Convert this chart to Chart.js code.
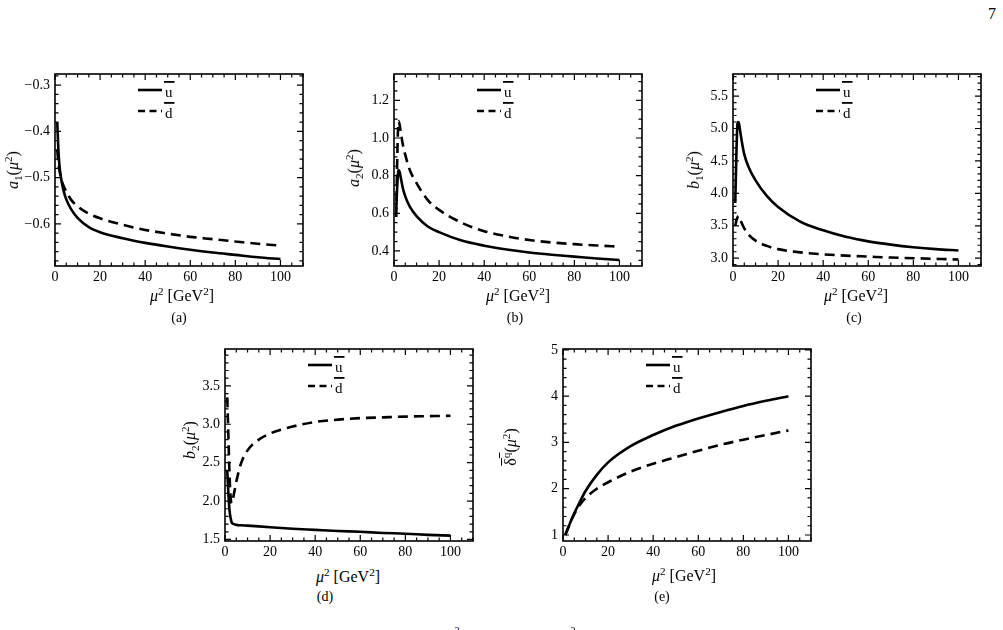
<!DOCTYPE html>
<html>
<head>
<meta charset="utf-8">
<script src="https://cdn.jsdelivr.net/npm/chart.js@4.4.0/dist/chart.umd.min.js"></script>
<style>
  body { margin: 0; background: #fff; width: 1003px; height: 630px; overflow: hidden; position: relative; font-family: "Liberation Serif", serif; color: #000; }
  canvas { position: absolute; }
  .lbl { position: absolute; white-space: nowrap; transform: translate(-50%, -50%); font-size: 16px; line-height: 1; }
  .rot { transform: translate(-50%, -50%) rotate(-90deg); }
  .sm { font-size: 14px; }
  sup, sub { font-size: 70%; line-height: 0; }
  .ov { text-decoration: overline; }
</style>
</head>
<body>
<div class="lbl" style="left:992px;top:14px">7</div>

<canvas id="chartA"></canvas>
<canvas id="chartB"></canvas>
<canvas id="chartC"></canvas>
<canvas id="chartD"></canvas>
<canvas id="chartE"></canvas>

<!-- axis titles -->
<div class="lbl rot" style="left:13px;top:170px"><i>a</i><sub>1</sub>(<i>μ</i><sup>2</sup>)</div>
<div class="lbl rot" style="left:354px;top:168px"><i>a</i><sub>2</sub>(<i>μ</i><sup>2</sup>)</div>
<div class="lbl rot" style="left:694px;top:170px"><i>b</i><sub>1</sub>(<i>μ</i><sup>2</sup>)</div>
<div class="lbl rot" style="left:190px;top:440px"><i>b</i><sub>2</sub>(<i>μ</i><sup>2</sup>)</div>
<div class="lbl rot" style="left:511px;top:447px"><span class="ov">δ</span><sup class="ov">q</sup>(<i>μ</i><sup>2</sup>)</div>

<div class="lbl" style="left:182px;top:296px"><i>μ</i><sup>2</sup> [GeV<sup>2</sup>]</div>
<div class="lbl" style="left:518px;top:296px"><i>μ</i><sup>2</sup> [GeV<sup>2</sup>]</div>
<div class="lbl" style="left:856px;top:296px"><i>μ</i><sup>2</sup> [GeV<sup>2</sup>]</div>
<div class="lbl" style="left:348px;top:577px"><i>μ</i><sup>2</sup> [GeV<sup>2</sup>]</div>
<div class="lbl" style="left:684px;top:576px"><i>μ</i><sup>2</sup> [GeV<sup>2</sup>]</div>

<div class="lbl sm" style="left:179px;top:318px">(a)</div>
<div class="lbl sm" style="left:515px;top:318px">(b)</div>
<div class="lbl sm" style="left:854px;top:318px">(c)</div>
<div class="lbl sm" style="left:325px;top:597px">(d)</div>
<div class="lbl sm" style="left:662px;top:597px">(e)</div>

<!-- caption line cut off by the page edge -->
<div class="lbl" style="left:457px;top:631px;font-size:10px">2</div>
<div class="lbl" style="left:573px;top:631px;font-size:10px">2</div>

<script>
// mu^2 grid (GeV^2)
const muSq = [1, 1.5, 2, 2.5, 3, 4, 5, 7, 10, 15, 20, 30, 40, 50, 60, 70, 80, 90, 100];

const a1U = [-0.38, -0.44, -0.475, -0.495, -0.51, -0.532, -0.547, -0.567, -0.587, -0.607, -0.618, -0.631, -0.641, -0.649, -0.656, -0.662, -0.667, -0.672, -0.676];
const a1D = [-0.44, -0.468, -0.485, -0.497, -0.507, -0.52, -0.53, -0.547, -0.562, -0.578, -0.588, -0.602, -0.613, -0.621, -0.628, -0.633, -0.638, -0.643, -0.647];

const a2U = [0.62, 0.76, 0.83, 0.82, 0.79, 0.73, 0.69, 0.635, 0.585, 0.53, 0.5, 0.455, 0.428, 0.408, 0.392, 0.38, 0.37, 0.36, 0.352];
const a2D = [0.58, 0.92, 1.09, 1.07, 1.03, 0.96, 0.91, 0.83, 0.76, 0.67, 0.618, 0.55, 0.505, 0.478, 0.458, 0.445, 0.436, 0.429, 0.423];

const b1U = [3.85, 4.6, 5.08, 5.1, 5.0, 4.78, 4.6, 4.4, 4.2, 3.96, 3.79, 3.56, 3.43, 3.33, 3.26, 3.21, 3.17, 3.14, 3.12];
const b1D = [3.5, 3.58, 3.63, 3.65, 3.62, 3.53, 3.46, 3.36, 3.27, 3.19, 3.14, 3.09, 3.06, 3.04, 3.025, 3.01, 3.0, 2.99, 2.98];

const b2U = [2.4, 2.1, 1.88, 1.78, 1.72, 1.7, 1.69, 1.685, 1.68, 1.67, 1.66, 1.64, 1.625, 1.61, 1.6, 1.585, 1.575, 1.56, 1.55];
const b2D = [3.35, 2.85, 2.35, 2.05, 1.97, 2.1, 2.25, 2.48, 2.66, 2.8, 2.88, 2.97, 3.03, 3.06, 3.08, 3.09, 3.1, 3.105, 3.11];

const deltaU = [1.0, 1.06, 1.12, 1.18, 1.24, 1.36, 1.47, 1.67, 1.95, 2.3, 2.57, 2.92, 3.16, 3.36, 3.52, 3.66, 3.79, 3.9, 4.0];
const deltaD = [1.0, 1.06, 1.12, 1.18, 1.24, 1.35, 1.45, 1.62, 1.8, 2.0, 2.14, 2.37, 2.54, 2.68, 2.82, 2.95, 3.06, 3.16, 3.26];

// tick labels
const xTicks = [0, 20, 40, 60, 80, 100];
const a1Ticks = [-0.6, -0.5, -0.4, -0.3];
const a2Ticks = [0.4, 0.6, 0.8, 1.0, 1.2];
const b1Ticks = [3.0, 3.5, 4.0, 4.5, 5.0, 5.5];
const b2Ticks = [1.5, 2.0, 2.5, 3.0, 3.5];
const deltaTicks = [1, 2, 3, 4, 5];

const seriesLabels = ["u", "d"];

// --- panel setup ---
const PLOT_W = 248, PLOT_H = 192;
const PAD_L = 50, PAD_T = 16, PAD_R = 12, PAD_B = 24;

const panels = [
  { id: "chartA", left: 55, top: 74, yMin: -0.691, yMax: -0.276, yTicks: a1Ticks, yMinor: 0.02, dec: 1, u: a1U, d: a1D },
  { id: "chartB", left: 394, top: 74, yMin: 0.32, yMax: 1.34, yTicks: a2Ticks, yMinor: 0.05, dec: 1, u: a2U, d: a2D },
  { id: "chartC", left: 733, top: 74, yMin: 2.88, yMax: 5.84, yTicks: b1Ticks, yMinor: 0.1, dec: 1, u: b1U, d: b1D },
  { id: "chartD", left: 225, top: 349, yMin: 1.48, yMax: 3.98, yTicks: b2Ticks, yMinor: 0.1, dec: 1, u: b2U, d: b2D },
  { id: "chartE", left: 563, top: 349, yMin: 0.87, yMax: 5.02, yTicks: deltaTicks, yMinor: 0.2, dec: 0, u: deltaU, d: deltaD }
];

const tickFont = { family: "Liberation Serif", size: 14 };

// frame with inward ticks on all four sides + legend inside the frame
function frameTicks(p) {
  return {
    id: "frameTicks",
    afterDatasetsDraw(chart) {
      const { ctx, chartArea: { left, right, top, bottom }, scales: { x, y } } = chart;
      ctx.save();
      ctx.strokeStyle = "#000";
      ctx.fillStyle = "#000";
      ctx.setLineDash([]);
      ctx.lineWidth = 1.2;

      const mark = (scale, step, majors, horizontal) => {
        const start = Math.ceil(scale.min / step - 1e-6);
        const end = Math.floor(scale.max / step + 1e-6);
        for (let i = start; i <= end; i++) {
          const v = i * step;
          const major = majors.some(m => Math.abs(m - v) < step / 10);
          const len = major ? 6 : 3.5;
          const pos = scale.getPixelForValue(v);
          ctx.beginPath();
          if (horizontal) {
            ctx.moveTo(pos, bottom); ctx.lineTo(pos, bottom - len);
            ctx.moveTo(pos, top); ctx.lineTo(pos, top + len);
          } else {
            ctx.moveTo(left, pos); ctx.lineTo(left + len, pos);
            ctx.moveTo(right, pos); ctx.lineTo(right - len, pos);
          }
          ctx.stroke();
        }
      };
      mark(x, 5, xTicks, true);
      mark(y, p.yMinor, p.yTicks, false);

      ctx.lineWidth = 1.6;
      ctx.strokeRect(left, top, right - left, bottom - top);

      // legend
      ctx.font = '15px "Liberation Serif"';
      chart.data.datasets.forEach((ds, i) => {
        const yy = top + 16 + i * 21;
        ctx.lineWidth = ds.borderWidth;
        ctx.setLineDash(ds.borderDash ? [7, 4.5] : []);
        ctx.beginPath();
        ctx.moveTo(left + 83, yy);
        ctx.lineTo(left + 107, yy);
        ctx.stroke();
        ctx.setLineDash([]);
        ctx.fillText(ds.label, left + 110, yy + 7);
        const w = ctx.measureText(ds.label).width;
        ctx.fillRect(left + 109, yy - 9, w + 3, 1.8);
      });
      ctx.restore();
    }
  };
}

panels.forEach(p => {
  const canvas = document.getElementById(p.id);
  canvas.width = PLOT_W + PAD_L + PAD_R;
  canvas.height = PLOT_H + PAD_T + PAD_B;
  canvas.style.left = (p.left - PAD_L) + "px";
  canvas.style.top = (p.top - PAD_T) + "px";

  const toPoints = ys => muSq.map((x, i) => ({ x: x, y: ys[i] }));

  new Chart(canvas, {
    type: "line",
    data: {
      datasets: [
        { label: seriesLabels[0], data: toPoints(p.u), borderColor: "#000", borderWidth: 2.6, pointRadius: 0, fill: false, cubicInterpolationMode: "monotone" },
        { label: seriesLabels[1], data: toPoints(p.d), borderColor: "#000", borderWidth: 2.6, borderDash: [10, 6], pointRadius: 0, fill: false, cubicInterpolationMode: "monotone" }
      ]
    },
    options: {
      responsive: false,
      animation: false,
      layout: { padding: { top: PAD_T, right: PAD_R, left: 0, bottom: 0 } },
      plugins: { legend: { display: false }, tooltip: { enabled: false } },
      scales: {
        x: {
          type: "linear", min: 0, max: 110,
          grid: { display: false, drawTicks: false }, border: { display: false },
          afterBuildTicks: s => { s.ticks = xTicks.map(v => ({ value: v })); },
          afterFit: s => { s.height = PAD_B; },
          ticks: { color: "#000", font: tickFont, padding: 3, maxRotation: 0, autoSkip: false }
        },
        y: {
          type: "linear", min: p.yMin, max: p.yMax,
          grid: { display: false, drawTicks: false }, border: { display: false },
          afterBuildTicks: s => { s.ticks = p.yTicks.map(v => ({ value: v })); },
          afterFit: s => { s.width = PAD_L; },
          ticks: {
            color: "#000", font: tickFont, padding: 5, autoSkip: false,
            callback: v => v.toFixed(p.dec).replace("-", "\u2212")
          }
        }
      }
    },
    plugins: [frameTicks(p)]
  });
});
</script>
</body>
</html>
